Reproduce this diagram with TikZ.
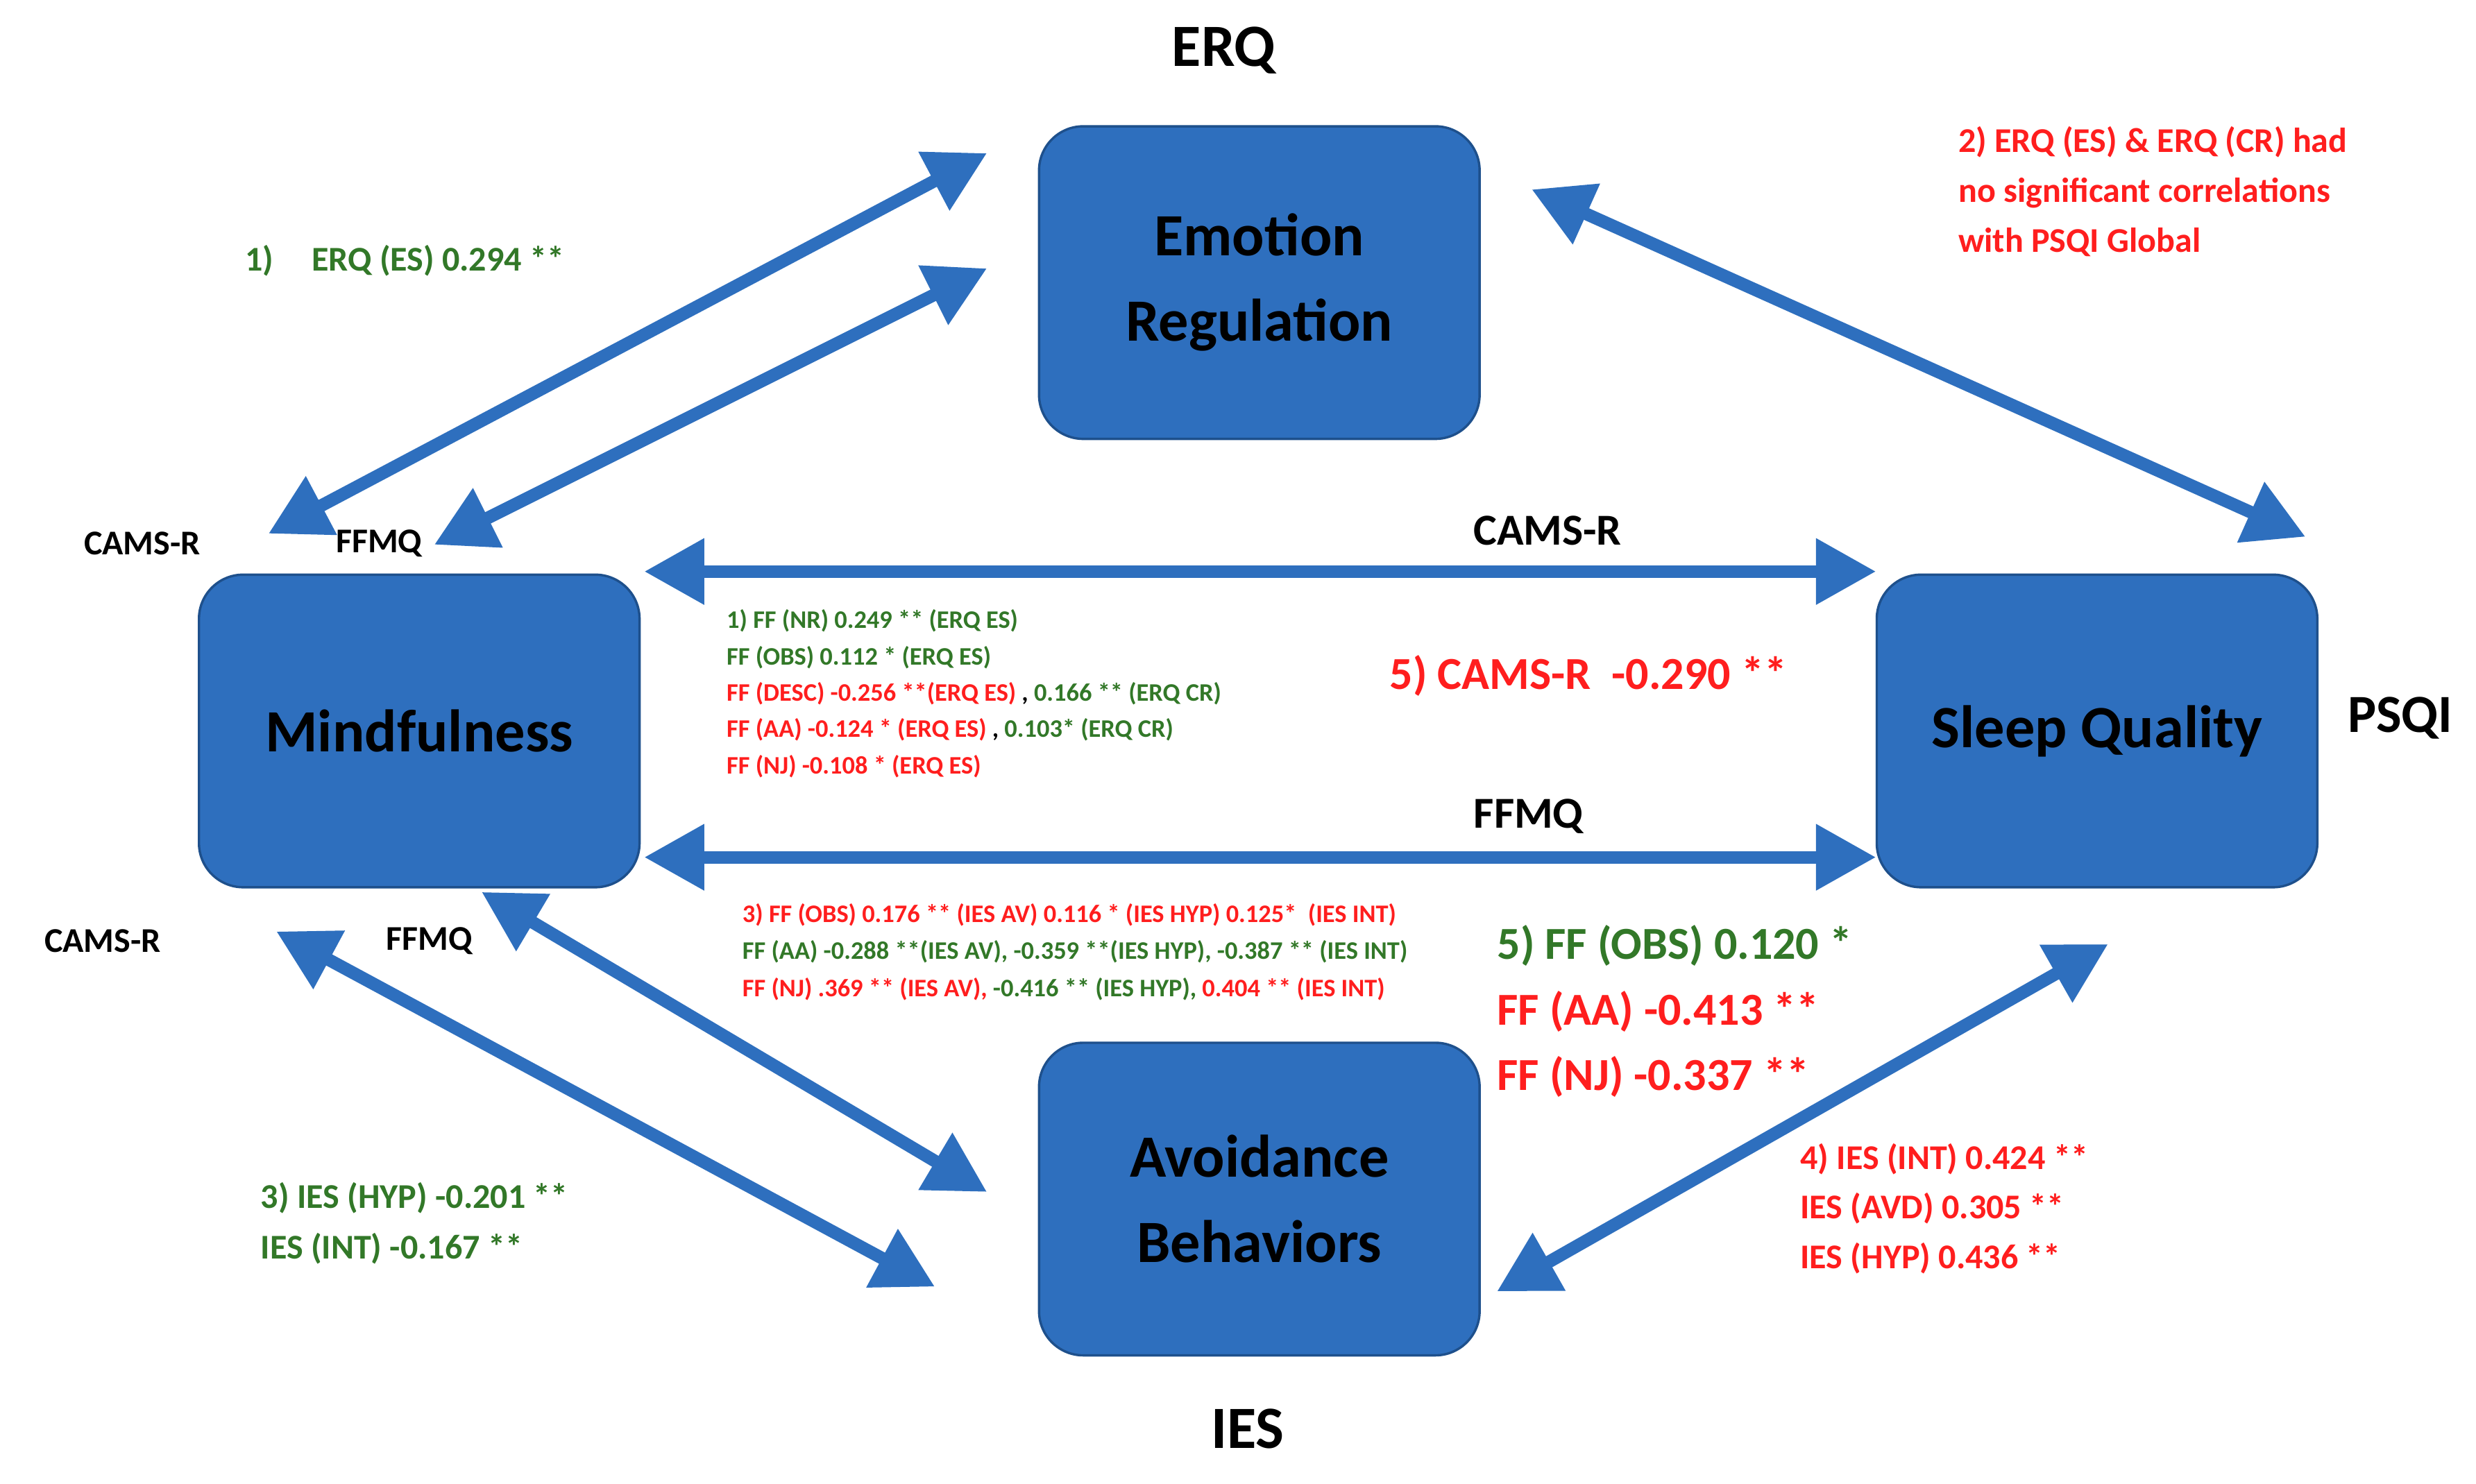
\documentclass[tikz,border=0pt]{standalone}
\usepackage{fontspec}
\setmainfont{Carlito}
\usetikzlibrary{arrows.meta}
\definecolor{bx}{RGB}{46,111,190}
\definecolor{bxd}{RGB}{30,80,140}
\definecolor{gr}{RGB}{50,120,40}
\definecolor{rd}{RGB}{255,30,30}
\begin{document}
\begin{tikzpicture}[x=1pt,y=-1pt,
  box/.style={draw=bxd,line width=1.5pt,fill=bx,rounded corners=28pt,minimum width=279pt,minimum height=198pt,align=center,font=\fontsize{38}{54}\selectfont\bfseries,text=black},
  arr/.style={draw=bx,line width=8pt,{Triangle[length=38pt,width=40pt]}-{Triangle[length=38pt,width=40pt]}},
  t/.style={font=\fontsize{#1}{#1}\selectfont\bfseries,inner sep=0pt,align=left},
  t/.default=20]
\useasboundingbox (0,0) rectangle (1568,940);
\fill[white] (0,0) rectangle (1568,940);
\node[box] (er) at (797.5,179) {Emotion\\Regulation};
\node[box] (mf) at (265.5,463) {Mindfulness};
\node[box] (sq) at (1328,463) {Sleep Quality};
\node[box] (ab) at (797.5,759.5) {Avoidance\\Behaviors};
\coordinate (a1) at (170,338); \coordinate (b1) at (625,97);
\coordinate (a2) at (275,345); \coordinate (b2) at (625,170);
\coordinate (a3) at (970,120); \coordinate (b3) at (1460,340);
\coordinate (a4) at (408,362); \coordinate (b4) at (1188,362);
\coordinate (a5) at (408,543); \coordinate (b5) at (1188,543);
\coordinate (a6) at (305,565); \coordinate (b6) at (625,755);
\coordinate (a7) at (175,590); \coordinate (b7) at (592,815);
\coordinate (a8) at (948,818); \coordinate (b8) at (1335,598);
\foreach \i in {1,...,8} \draw[arr] (a\i) -- (b\i);
\node[t=38] (erq) at (775,32) {ERQ};
\node[t=38] (ies) at (790,905) {IES};
\node[t=34] (psqi) at (1520,455) {PSQI};
\node[t=22] (c1) at (90,344) {CAMS-R};
\node[t=22] (f1) at (240,344) {FFMQ};
\node[t=22] (c2) at (65,596) {CAMS-R};
\node[t=22] (f2) at (272,596) {FFMQ};
\node[t=28] (c3) at (980,336) {CAMS-R};
\node[t=28] (f3) at (968,517) {FFMQ};
\node[t=22,text=gr,anchor=west] (l1) at (155,165) {1)\hspace{1.1em}ERQ (ES) 0.294 **};
\node[t=22,text=rd,anchor=north west,font=\fontsize{22}{31.5}\selectfont\bfseries] (l2) at (1240,80) {2) ERQ (ES) \& ERQ (CR) had\\no significant correlations\\with PSQI Global};
\node[t=16,anchor=north west,font=\fontsize{16}{23}\selectfont\bfseries] (l3) at (460,386) {\textcolor{gr}{1) FF (NR) 0.249 ** (ERQ ES)}\\
\textcolor{gr}{FF (OBS) 0.112 * (ERQ ES)}\\
\textcolor{rd}{FF (DESC) -0.256 **(ERQ ES)} , \textcolor{gr}{0.166 ** (ERQ CR)}\\
\textcolor{rd}{FF (AA) -0.124 * (ERQ ES)} , \textcolor{gr}{0.103* (ERQ CR)}\\
\textcolor{rd}{FF (NJ) -0.108 * (ERQ ES)}};
\node[t=29,text=rd,anchor=west] (l5) at (880,428) {5) CAMS-R\ \ -0.290 **};
\node[t=16,anchor=north west,font=\fontsize{16}{23.5}\selectfont\bfseries] (l4) at (470,572) {\textcolor{rd}{3) FF (OBS) 0.176 ** (IES AV) 0.116 * (IES HYP) 0.125*\ \ (IES INT)}\\
\textcolor{gr}{FF (AA) -0.288 **(IES AV), -0.359 **(IES HYP), -0.387 ** (IES INT)}\\
\textcolor{rd}{FF (NJ) .369 ** (IES AV),} \textcolor{gr}{-0.416 ** (IES HYP),} \textcolor{rd}{0.404 ** (IES INT)}};
\node[t=29,anchor=north west,font=\fontsize{29}{41.5}\selectfont\bfseries] (l6) at (948,586) {\textcolor{gr}{5) FF (OBS) 0.120 *}\\\textcolor{rd}{FF (AA) -0.413 **}\\\textcolor{rd}{FF (NJ) -0.337 **}};
\node[t=22,text=rd,anchor=north west,font=\fontsize{22}{31.5}\selectfont\bfseries] (l7) at (1140,724) {4) IES (INT) 0.424 **\\IES (AVD) 0.305 **\\IES (HYP) 0.436 **};
\node[t=22,text=gr,anchor=north west,font=\fontsize{22}{32}\selectfont\bfseries] (l8) at (165,749) {3) IES (HYP) -0.201 **\\IES (INT) -0.167 **};
\end{tikzpicture}
\end{document}
